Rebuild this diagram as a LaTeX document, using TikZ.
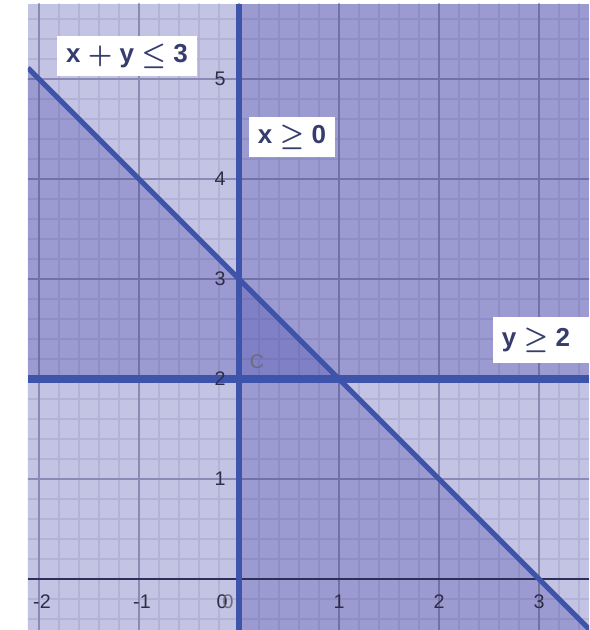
\documentclass[tikz,border=0pt]{standalone}
\usepackage{fontspec}
\setsansfont{Liberation Sans}
\definecolor{shade}{RGB}{75,75,175}
\definecolor{bound}{RGB}{62,84,170}
\definecolor{ink}{RGB}{55,60,110}
\definecolor{tickink}{RGB}{45,45,70}
\tikzset{
  halfplane/.style={fill=shade,fill opacity=0.33},
  boundary/.style={draw=bound,line width=1.5pt},
  ineq/.style={fill=white,text=ink,font=\sffamily\bfseries\boldmath\fontsize{7.4}{8}\selectfont,inner xsep=2.6pt,inner ysep=2.2pt},
  ticklbl/.style={text=tickink,font=\sffamily\fontsize{5.6}{6}\selectfont,inner sep=0pt}
}
\begin{document}
\begin{tikzpicture}
\useasboundingbox[fill=white] (-2.39,-0.51) rectangle (3.50,5.79);
\begin{scope}
  \clip (-2.11,-0.51) rectangle (3.50,5.75);
  \fill[white] (-2.11,-0.51) rectangle (3.50,5.75);
  \fill[halfplane] (0,-0.51) rectangle (3.50,5.75);
  \fill[halfplane] (-2.11,-0.51) -- (-2.11,5.11) -- (3.51,-0.51) -- cycle;
  \fill[halfplane] (-2.11,2) rectangle (3.50,5.75);
  \draw[draw=shade!60!black,opacity=0.1,line width=0.3pt,step=0.2] (-2.2,-0.6) grid (3.6,5.8);
  \draw[draw=shade!60!black,opacity=0.3,line width=0.45pt,step=1] (-2.2,-0.6) grid (3.6,5.8);
  \draw[draw=ink!80!black,line width=0.6pt] (-2.11,0) -- (3.50,0);
  \draw[boundary] (-2.11,5.11) -- (3.51,-0.51);
  \draw[boundary,line width=2pt] (-2.11,2) -- (3.50,2);
  \draw[boundary,line width=1.7pt] (0,-0.51) -- (0,5.75);
\end{scope}

   \node[ineq] at (-1.12,5.23) (sum) {x $+$ y $\leq$ 3};
   \node[ineq] at (0.53,4.42) (xpos) {x $\geq$ 0};
   \node[ineq,anchor=west,inner ysep=3pt] at (2.53,2.39) (ymin) {y $\geq$ 2\rule{14pt}{0pt}};
   \node[ticklbl,text=tickink!70] at (0.18,2.17) (C) {C};

   \node[ticklbl] at (-1.97,-0.23) (xm2) {-2};
   \node[ticklbl] at (-0.97,-0.23) (xm1) {-1};
   \node[ticklbl] at (-0.17,-0.23) (x0) {0};
   \node[ticklbl,text=tickink!70] at (-0.11,-0.23) (y0) {0};
   \node[ticklbl] at (1,-0.23) (x1) {1};
   \node[ticklbl] at (2,-0.23) (x2) {2};
   \node[ticklbl] at (3,-0.23) (x3) {3};

   \node[ticklbl] at (-0.19,1) (y1) {1};
   \node[ticklbl] at (-0.19,2) (y2) {2};
   \node[ticklbl] at (-0.19,3) (y3) {3};
   \node[ticklbl] at (-0.19,4) (y4) {4};
   \node[ticklbl] at (-0.19,5) (y5) {5};
\end{tikzpicture}
\end{document}
